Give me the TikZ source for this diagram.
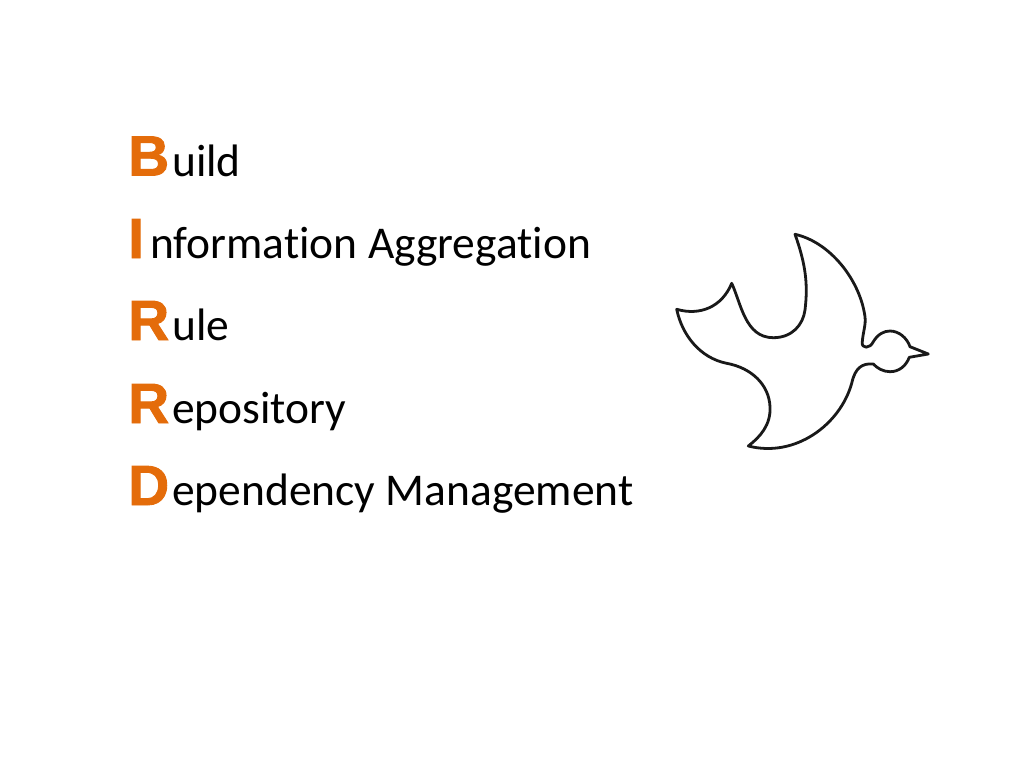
\documentclass[tikz,border=0pt]{standalone}
\usepackage{fontspec}
\setmainfont[RawFeature={-liga}]{Carlito}
\newfontfamily\initialfont[BoldFeatures={FakeBold=1.6}]{Liberation Sans}
\definecolor{initial}{RGB}{228,108,10}
\tikzset{
  word/.style={anchor=base west, inner sep=0pt, font=\fontsize{34.1}{40}\selectfont},
  letter/.style={anchor=base west, inner sep=0pt, text=initial, font=\initialfont\bfseries\fontsize{42.5}{50}\selectfont},
}
\begin{document}
\begin{tikzpicture}[x=0.75pt,y=-0.75pt]
\useasboundingbox (0,0) rectangle (1024,768);

\node [letter] (b) at (128,175.5) {B};
\node [letter] (i) at (128,258) {I};
\node [letter] (r) at (128,340) {R};
\node [letter] (s) at (128,423) {R};
\node [letter] (d) at (128,505) {D};

\node [word] (build) at (172,176) {uild};
\node [word] (info) at (150,258) {nformation Aggregation};
\node [word] (rule) at (172,340) {ule};
\node [word] (repo) at (172,423) {epository};
\node [word] (dep) at (172,505) {ependency Management};

% bird
\draw [line width=2.1pt, line join=round, black!90]
  (795,234.3) .. controls (830,242) and (860,280) .. (865,316.7)
  .. controls (866,325) and (863,332) .. (862.3,341.7)
  .. controls (861,349) and (870,349) .. (873.3,341.7)
  .. controls (878,334) and (884,331) .. (890,331)
  .. controls (899,331) and (907,338) .. (910,346.7)
  -- (928.3,354) -- (909.3,357.3)
  .. controls (906,366) and (899,371.7) .. (890,371.7)
  .. controls (883,371.7) and (877,368) .. (873.3,364)
  .. controls (862,363) and (855,368) .. (851.7,383.3)
  .. controls (840,425) and (795,458) .. (748.3,446)
  .. controls (760,437) and (771,425) .. (770,406.7)
  .. controls (769,385) and (752,368) .. (726.7,363.3)
  .. controls (700,358) and (682,335) .. (676.7,309.3)
  .. controls (700,316) and (722,307) .. (731.7,283.3)
  .. controls (741,303) and (745,337.7) .. (773.3,337.7)
  .. controls (792,337.7) and (803,325) .. (805,310)
  .. controls (808,285) and (806,265) .. (795,234.3)
  -- cycle;
\end{tikzpicture}
\end{document}
